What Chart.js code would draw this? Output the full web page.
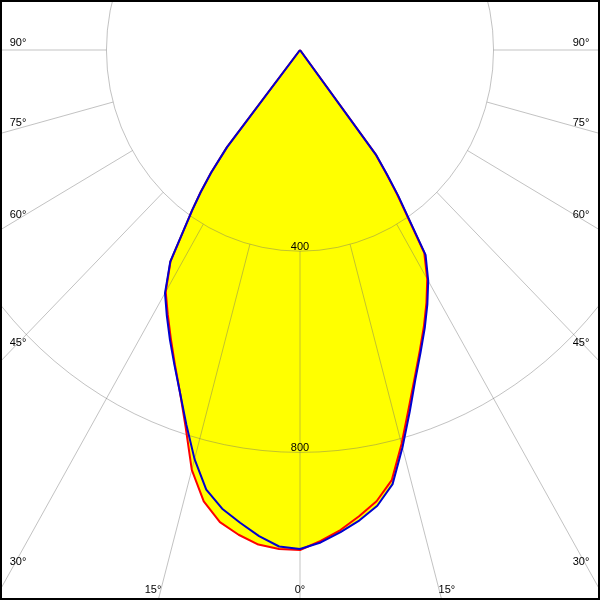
<!DOCTYPE html>
<html><head><meta charset="utf-8">
<script src="https://cdn.jsdelivr.net/npm/chart.js@4.4.0/dist/chart.umd.min.js"></script>
<style>html,body{margin:0;padding:0;background:#fff}#wrap{width:600px;height:600px;position:relative}</style>
</head><body><div id="wrap"><canvas id="c" width="600" height="600"></canvas></div>
<script>
// Gamma angles (degrees from nadir) and luminous intensities (cd/klm)
const ANGLES = [0, 2.5, 5, 7.5, 10, 12.5, 15, 17.5, 20, 22.5, 25, 27.5, 30, 32.5, 35, 36, 37, 38, 39, 40];
// C0-C180 plane (red): C180 drawn on the left, C0 on the right
const C180 = [994, 993, 987, 972, 953, 919, 864, 786, 725, 676, 632, 592, 555, 498, 388, 349, 305, 245, 0, 0];
const C0   = [994, 977, 958, 935, 911, 876, 811, 747, 693, 647, 606, 566, 526, 478, 350, 303, 260, 0, 0, 0];
// C90-C270 plane (blue): C270 on the left, C90 on the right
const C270 = [992, 988, 970, 948, 926, 895, 842, 781, 725, 678, 636, 596, 558, 499, 388, 349, 305, 245, 0, 0];
const C90  = [992, 980, 962, 943, 920, 884, 818, 754, 697, 651, 610, 570, 530, 483, 354, 307, 263, 0, 0, 0];

const RING_VALUES = [400, 800];
const RING_LABELS = ['400', '800'];
const ANGLE_TICKS = [0, 15, 30, 45, 60, 75, 90];
const ANGLE_LABELS = ['0°', '15°', '30°', '45°', '60°', '75°', '90°'];

const RAD = Math.PI / 180;
function planePoints(left, right) {
  const pts = [];
  for (let i = ANGLES.length - 1; i >= 0; i--) {
    const a = ANGLES[i] * RAD;
    pts.push({ x: -left[i] * Math.sin(a), y: left[i] * Math.cos(a) });
  }
  for (let i = 1; i < ANGLES.length; i++) {
    const a = ANGLES[i] * RAD;
    pts.push({ x: right[i] * Math.sin(a), y: right[i] * Math.cos(a) });
  }
  return pts;
}
const redPts = planePoints(C180, C0);
const bluePts = planePoints(C270, C90);

const FONT = '11px "Liberation Sans", Arial, sans-serif';

const gridPlugin = {
  id: 'polarGrid',
  afterDatasetDraw(chart, args) {
    if (args.index !== 2) return;
    const ctx = chart.ctx, xs = chart.scales.x, ys = chart.scales.y, ca = chart.chartArea;
    const cx = xs.getPixelForValue(0), cy = ys.getPixelForValue(0);
    ctx.save();
    ctx.beginPath(); ctx.rect(ca.left, ca.top, ca.right - ca.left, ca.bottom - ca.top); ctx.clip();
    ctx.strokeStyle = 'rgba(110,110,110,0.42)';
    ctx.lineWidth = 1;
    RING_VALUES.forEach(R => {
      const rx = xs.getPixelForValue(R) - cx, ry = ys.getPixelForValue(R) - cy;
      ctx.beginPath(); ctx.ellipse(cx, cy, rx, ry, 0, 0, Math.PI * 2); ctx.stroke();
    });
    const r0 = RING_VALUES[0];
    ANGLE_TICKS.forEach(t => {
      [-1, 1].forEach(side => {
        if (t === 0 && side === 1) return;
        const a = t * RAD;
        ctx.beginPath();
        ctx.moveTo(xs.getPixelForValue(side * r0 * Math.sin(a)), ys.getPixelForValue(r0 * Math.cos(a)));
        ctx.lineTo(xs.getPixelForValue(side * 5000 * Math.sin(a)), ys.getPixelForValue(5000 * Math.cos(a)));
        ctx.stroke();
      });
    });
    ctx.restore();
  },
  afterDraw(chart) {
    const ctx = chart.ctx, xs = chart.scales.x, ys = chart.scales.y, ca = chart.chartArea;
    const cx = xs.getPixelForValue(0), cy = ys.getPixelForValue(0);
    ctx.save();
    ctx.fillStyle = '#000';
    ctx.font = FONT;
    ctx.textAlign = 'center';
    ctx.textBaseline = 'alphabetic';
    RING_VALUES.forEach((R, i) => {
      ctx.fillText(RING_LABELS[i], cx, ys.getPixelForValue(R) - 1);
    });
    ANGLE_TICKS.forEach((t, i) => {
      [-1, 1].forEach(side => {
        if (t === 0 && side === 1) return;
        const a = t * RAD;
        const fx = xs.getPixelForValue(side * 5000 * Math.sin(a)), fy = ys.getPixelForValue(5000 * Math.cos(a));
        const dx = fx - cx, dy = fy - cy;
        const edgeX = side < 0 ? ca.left : ca.right;
        let lx, ly;
        const tSide = Math.abs(dx) > 1e-6 ? (edgeX - cx) / dx : Infinity;
        const tBot = dy > 1e-6 ? (ca.bottom - cy) / dy : Infinity;
        if (tSide < tBot) {
          const hitY = cy + dy * tSide;
          lx = side < 0 ? ca.left + 18 : ca.right - 19;
          ly = Math.min(hitY - 8 - (90 - t) * 4 / 15, ca.bottom - 39);
        } else {
          ly = ca.bottom - 11;
          const tt = (ly - cy) / dy;
          lx = cx + dx * tt + side * (t / 15) * 8;
        }
        ctx.fillText(ANGLE_LABELS[i], lx, ly + 4);
      });
    });
    ctx.strokeStyle = '#000';
    ctx.lineWidth = 2;
    ctx.strokeRect(1, 1, chart.width - 2, chart.height - 2);
    ctx.restore();
  }
};

new Chart(document.getElementById('c'), {
  type: 'line',
  data: {
    datasets: [
      { label: 'C90-C270', data: bluePts, borderColor: '#0000d0', borderWidth: 2, fill: false, pointRadius: 0, tension: 0, borderJoinStyle: 'round' },
      { label: 'C0-C180', data: redPts, borderColor: '#ff0000', borderWidth: 2, fill: false, pointRadius: 0, tension: 0, borderJoinStyle: 'round' },
      { label: 'fillRed', data: redPts, borderWidth: 0, borderColor: 'rgba(0,0,0,0)', backgroundColor: '#ffff00', fill: 'shape', pointRadius: 0, tension: 0 },
      { label: 'fillBlue', data: bluePts, borderWidth: 0, borderColor: 'rgba(0,0,0,0)', backgroundColor: '#ffff00', fill: 'shape', pointRadius: 0, tension: 0 }
    ]
  },
  options: {
    responsive: false,
    animation: false,
    events: [],
    layout: { padding: 0 },
    plugins: { legend: { display: false }, tooltip: { enabled: false } },
    scales: {
      x: { type: 'linear', min: -620, max: 620, display: false },
      y: { type: 'linear', min: -99.4, max: 1093.4, reverse: true, display: false }
    }
  },
  plugins: [gridPlugin]
});
</script>
</body></html>
